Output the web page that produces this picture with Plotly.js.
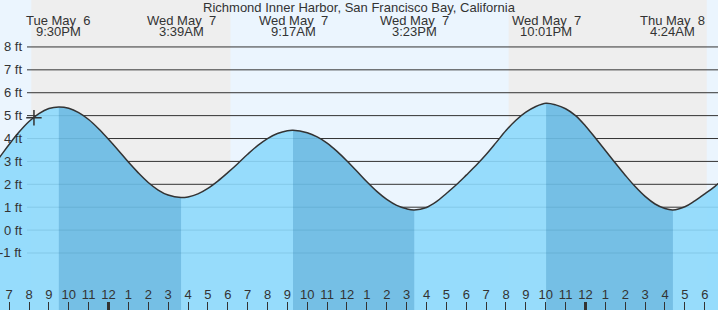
<!DOCTYPE html>
<html>
<head>
<meta charset="utf-8">
<script src="https://cdn.plot.ly/plotly-3.0.1.min.js"></script>
<style>html,body{margin:0;padding:0;background:#ebf5fe;}#chart{width:718px;height:310px;}</style>
</head>
<body>
<div id="chart"></div>
<script>
// ---- data ----
const chartTitle = 'Richmond Inner Harbor, San Francisco Bay, California';
const times = [
  '2025-05-06 18:00','2025-05-06 18:30','2025-05-06 19:00','2025-05-06 19:30','2025-05-06 20:00',
  '2025-05-06 20:30','2025-05-06 21:00','2025-05-06 21:30','2025-05-06 22:00','2025-05-06 22:30',
  '2025-05-06 23:00','2025-05-06 23:30','2025-05-07 00:00','2025-05-07 00:30','2025-05-07 01:00',
  '2025-05-07 01:30','2025-05-07 02:00','2025-05-07 02:30','2025-05-07 03:00','2025-05-07 03:39',
  '2025-05-07 04:00','2025-05-07 04:30','2025-05-07 05:00','2025-05-07 05:30','2025-05-07 06:00',
  '2025-05-07 06:30','2025-05-07 07:00','2025-05-07 07:30','2025-05-07 08:00','2025-05-07 08:30',
  '2025-05-07 09:00','2025-05-07 09:17','2025-05-07 10:00','2025-05-07 10:30','2025-05-07 11:00',
  '2025-05-07 11:30','2025-05-07 12:00','2025-05-07 12:30','2025-05-07 13:00','2025-05-07 13:30',
  '2025-05-07 14:00','2025-05-07 14:30','2025-05-07 15:00','2025-05-07 15:23','2025-05-07 16:00',
  '2025-05-07 16:30','2025-05-07 17:00','2025-05-07 17:30','2025-05-07 18:00','2025-05-07 18:30',
  '2025-05-07 19:00','2025-05-07 19:30','2025-05-07 20:00','2025-05-07 20:30','2025-05-07 21:00',
  '2025-05-07 21:30','2025-05-07 22:01','2025-05-07 22:30','2025-05-07 23:00','2025-05-07 23:30',
  '2025-05-08 00:00','2025-05-08 00:30','2025-05-08 01:00','2025-05-08 01:30','2025-05-08 02:00',
  '2025-05-08 02:30','2025-05-08 03:00','2025-05-08 03:30','2025-05-08 04:00','2025-05-08 04:24',
  '2025-05-08 05:00','2025-05-08 05:30','2025-05-08 06:00','2025-05-08 06:30','2025-05-08 07:00'
];
const levels = [
  2.60, 3.16, 3.74, 4.28, 4.74,
  5.09, 5.31, 5.38, 5.32, 5.13,
  4.83, 4.43, 3.97, 3.48, 2.97,
  2.50, 2.08, 1.75, 1.53, 1.42,
  1.45, 1.58, 1.82, 2.14, 2.51,
  2.90, 3.31, 3.69, 4.00, 4.22,
  4.34, 4.36, 4.25, 4.07, 3.80,
  3.44, 3.02, 2.57, 2.11, 1.69,
  1.34, 1.08, 0.93, 0.88, 0.99,
  1.24, 1.60, 1.98, 2.40, 2.83,
  3.30, 3.82, 4.35, 4.80, 5.15,
  5.40, 5.54, 5.47, 5.30, 5.00,
  4.55, 4.02, 3.48, 2.93, 2.40,
  1.90, 1.47, 1.14, 0.94, 0.88,
  1.02, 1.28, 1.58, 1.90, 2.28
];
const extremeTimes = ['2025-05-06 21:30','2025-05-07 03:39','2025-05-07 09:17','2025-05-07 15:23','2025-05-07 22:01','2025-05-08 04:24'];
const extremeDays  = ['Tue May  6','Wed May  7','Wed May  7','Wed May  7','Wed May  7','Thu May  8'];
const extremeClock = ['9:30PM','3:39AM','9:17AM','3:23PM','10:01PM','4:24AM'];
const nightStarts = ['2025-05-06 20:07','2025-05-07 20:08'];
const nightEnds   = ['2025-05-07 06:08','2025-05-08 06:06'];
const midnights = ['2025-05-07 00:00','2025-05-08 00:00'];
const yTicks = [-1,0,1,2,3,4,5,6,7,8];
const nowTime = ['2025-05-06 20:15'];
const nowLevel = [4.91];
const xRange = ['2025-05-06 18:32:28','2025-05-08 06:40:01'];
const yRange = [-3.49, 10.05];

// ---- styles ----
const W = 718, H = 310;
const dayColor = '#ebf5fe', nightColor = '#eeeeee', ink = '#333333';
const floorLevel = -6;
const FONT = 'Liberation Sans, Arial, sans-serif';

const traces = [];
// main water fill
traces.push({x:[times[0], times[times.length-1]], y:[floorLevel, floorLevel], mode:'lines', line:{width:0}, hoverinfo:'skip'});
traces.push({x:times, y:levels, mode:'lines', line:{width:0, shape:'spline'}, fill:'tonexty', fillcolor:'rgba(141,217,252,0.9)', hoverinfo:'skip'});
// ebb (falling tide) darker bands: high -> following low
for (let i = 0; i + 1 < extremeTimes.length; i += 2) {
  const a = extremeTimes[i], b = extremeTimes[i+1];
  const sx = [], sy = [];
  times.forEach((t, k) => { if (t >= a && t <= b) { sx.push(t); sy.push(levels[k]); } });
  traces.push({x:[a, b], y:[floorLevel, floorLevel], mode:'lines', line:{width:0}, hoverinfo:'skip'});
  traces.push({x:sx, y:sy, mode:'lines', line:{width:0, shape:'spline'}, fill:'tonexty', fillcolor:'rgba(0,90,150,0.22)', hoverinfo:'skip'});
}
// tide curve
traces.push({x:times, y:levels, mode:'lines', line:{color:ink, width:1.5, shape:'spline'}, hoverinfo:'skip'});
// current time marker
traces.push({x:nowTime, y:nowLevel, mode:'markers', marker:{symbol:'cross-thin-open', size:11, color:ink, line:{color:ink, width:1.5}}, hoverinfo:'skip'});

const shapes = [];
nightStarts.forEach((s, i) => shapes.push({type:'rect', layer:'below', xref:'x', yref:'paper', x0:s, x1:nightEnds[i], y0:0, y1:1, fillcolor:nightColor, line:{width:0}}));
yTicks.forEach(v => shapes.push({type:'line', layer:'below', xref:'paper', yref:'y', x0:27/W, x1:1, y0:v, y1:v, line:{color:ink, width:1}}));
midnights.forEach(m => shapes.push({type:'line', layer:'above', xref:'x', yref:'paper', x0:m, x1:m, y0:0, y1:8/H, line:{color:ink, width:3}}));

const annotations = [];
yTicks.forEach(v => annotations.push({xref:'paper', yref:'y', x:24/W, y:v, xanchor:'right', yanchor:'middle', text:v + '\u00a0ft', showarrow:false, font:{family:FONT, size:13, color:ink}}));
extremeTimes.forEach((t, i) => {
  annotations.push({xref:'x', yref:'paper', x:t, y:1 - 20.3/H, xanchor:'center', yanchor:'middle', text:extremeDays[i].replace(/ /g,'\u00a0'), showarrow:false, font:{family:FONT, size:13, color:ink}});
  annotations.push({xref:'x', yref:'paper', x:t, y:1 - 31.3/H, xanchor:'center', yanchor:'middle', text:extremeClock[i], showarrow:false, font:{family:FONT, size:13, color:ink}});
});

const layout = {
  width:W, height:H, margin:{l:0, r:0, t:0, b:0},
  paper_bgcolor:dayColor, plot_bgcolor:dayColor, showlegend:false,
  title:{text:chartTitle, x:0.5, xanchor:'center', y:1 - 7.0/H, yanchor:'middle', font:{family:FONT, size:13, color:ink}},
  xaxis:{type:'date', range:xRange, showgrid:false, zeroline:false, showline:false,
    tick0:'2025-05-06 00:00', dtick:3600000, tickformat:'%-I',
    ticks:'inside', ticklen:8, tickwidth:1, tickcolor:ink,
    ticklabelposition:'inside', tickfont:{family:FONT, size:13, color:ink}, fixedrange:true},
  yaxis:{range:yRange, showgrid:false, zeroline:false, showline:false, showticklabels:false, ticks:'', fixedrange:true},
  shapes:shapes, annotations:annotations
};
Plotly.newPlot('chart', traces, layout, {staticPlot:true, displayModeBar:false});
</script>
</body>
</html>
